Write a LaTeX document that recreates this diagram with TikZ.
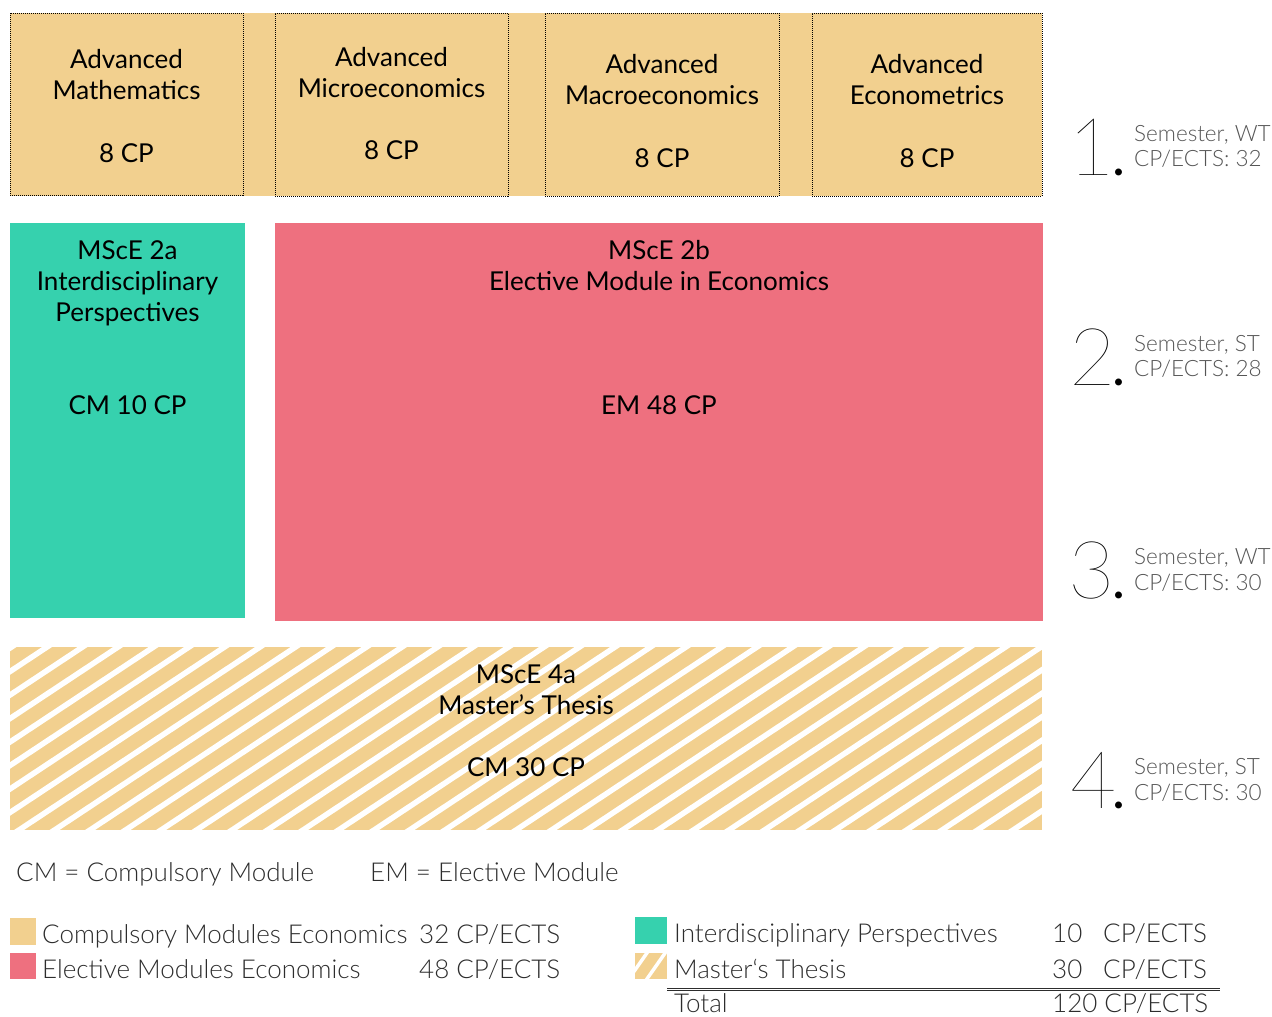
\documentclass[tikz,border=0pt]{standalone}
\usepackage{fontspec}
\setmainfont{Lato}
\newfontfamily\lightf{Lato Light}
\newfontfamily\hairf{Lato Hairline}
\definecolor{beige}{RGB}{242,208,143}
\definecolor{teal}{RGB}{54,209,174}
\definecolor{pinkm}{RGB}{238,112,127}
\definecolor{semgray}{RGB}{85,85,85}
\definecolor{leggray}{RGB}{45,45,45}
\newcommand{\semdigit}[2]{\makebox[#1pt][l]{\hairf #2}\rlap{\fontsize{55}{55}\selectfont.}}
\tikzset{
  topbox/.style={draw=black, line width=0.8pt, dash pattern=on 1pt off 1pt, fill=beige, inner sep=0pt},
  blk/.style={font=\fontsize{26}{31}\selectfont, anchor=base, inner sep=0pt, text=black},
  semnum/.style={font=\fontsize{80}{80}\selectfont, anchor=base west, inner sep=0pt},
  semtxt/.style={font=\lightf\fontsize{22.5}{25}\selectfont, anchor=base west, inner sep=0pt, text=semgray},
  leg/.style={font=\lightf\fontsize{26}{28}\selectfont, anchor=base west, inner sep=0pt, text=leggray},
  stripe/.style={white, line width=5.5pt},
}
\begin{document}
\begin{tikzpicture}[x=1pt,y=-1pt]
\useasboundingbox (0,0) rectangle (1272,1017);
% top band
\fill[beige] (10,13) rectangle (1042,196);
\node[topbox, minimum width=233, minimum height=182] (b1) at (126.5,104) {};
\node[topbox, minimum width=233, minimum height=183] (b2) at (391.5,104.5) {};
\node[topbox, minimum width=234, minimum height=183] (b3) at (662,104.5) {};
\node[topbox, minimum width=230, minimum height=183] (b4) at (927,104.5) {};
\node[blk] (b1a) at (126.5,68.5) {Advanced};
\node[blk] (b1b) at (126.5,99.5) {Mathematics};
\node[blk] (b1c) at (126.5,162.5) {8 CP};
\node[blk] (b2a) at (391.5,66.5) {Advanced};
\node[blk] (b2b) at (391.5,97.5) {Microeconomics};
\node[blk] (b2c) at (391.5,159.5) {8 CP};
\node[blk] (b3a) at (662,73.5) {Advanced};
\node[blk] (b3b) at (662,104.5) {Macroeconomics};
\node[blk] (b3c) at (662,167.5) {8 CP};
\node[blk] (b4a) at (927,73.5) {Advanced};
\node[blk] (b4b) at (927,104.5) {Econometrics};
\node[blk] (b4c) at (927,167.5) {8 CP};
% teal
\node[fill=teal, minimum width=235, minimum height=395, inner sep=0pt] (ip) at (127.5,420.5) {};
\node[blk] (ipa) at (127.5,259.5) {MScE 2a};
\node[blk] (ipb) at (127.5,290.5) {Interdisciplinary};
\node[blk] (ipc) at (127.5,321.5) {Perspectives};
\node[blk] (ipd) at (127.5,414.5) {CM 10 CP};
% pink
\node[fill=pinkm, minimum width=768, minimum height=398, inner sep=0pt] (em) at (659,422) {};
\node[blk] (ema) at (659,259.5) {MScE 2b};
\node[blk] (emb) at (659,290.5) {Elective Module in Economics};
\node[blk] (emc) at (659,414.5) {EM 48 CP};
% thesis hatched
\begin{scope}
\clip (10,647) rectangle (1042,830);
\fill[beige] (10,647) rectangle (1042,830);
\foreach \i in {-3,...,34} {
  \draw[stripe] (933-\i*35.5,836) -- ++(-33.5:420);
}
\end{scope}
\node[inner sep=0pt, minimum width=1032, minimum height=183] (th) at (526,738.5) {};
\node[blk] (tha) at (526,683.5) {MScE 4a};
\node[blk] (thb) at (526,714.5) {Master’s Thesis};
\node[blk] (thc) at (526,776.5) {CM 30 CP};
% semesters
\node[semnum] (s1) at (1068,175) {\semdigit{44}{1}};
\node[semtxt] (s1a) at (1134,141) {Semester, WT};
\node[semtxt] (s1b) at (1134,166) {CP/ECTS: 32};
\node[semnum] (s2) at (1069,385) {\semdigit{43}{2}};
\node[semtxt] (s2a) at (1134,351) {Semester, ST};
\node[semtxt] (s2b) at (1134,376) {CP/ECTS: 28};
\node[semnum] (s3) at (1068,598) {\semdigit{44}{3}};
\node[semtxt] (s3a) at (1134,564) {Semester, WT};
\node[semtxt] (s3b) at (1134,590) {CP/ECTS: 30};
\node[semnum] (s4) at (1070,808) {\semdigit{42}{4}};
\node[semtxt] (s4a) at (1134,774) {Semester, ST};
\node[semtxt] (s4b) at (1134,800) {CP/ECTS: 30};
% legend
\node[leg] (cm) at (16,881) {CM = Compulsory Module};
\node[leg] (emd) at (370,881) {EM = Elective Module};
\node[fill=beige, minimum width=26, minimum height=27, inner sep=0pt] (lq1) at (23,931.5) {};
\node[leg] (l1) at (42,943.5) {Compulsory Modules Economics};
\node[leg] (l1n) at (419,943.5) {32 CP/ECTS};
\node[fill=pinkm, minimum width=26, minimum height=26, inner sep=0pt] (lq2) at (23,966) {};
\node[leg] (l2) at (42,978.5) {Elective Modules Economics};
\node[leg] (l2n) at (419,978.5) {48 CP/ECTS};
\node[fill=teal, minimum width=32, minimum height=27, inner sep=0pt] (lq3) at (651,930.5) {};
\node[leg] (l3) at (674,942.5) {Interdisciplinary Perspectives};
\node[leg] (l3n) at (1052,942.5) {10};
\node[leg] (l3u) at (1103,942.5) {CP/ECTS};
\begin{scope}
\clip (635,953) rectangle (667,979);
\fill[beige] (635,953) rectangle (667,979);
\draw[white, line width=3.5pt] (642,960) ++(125:30) -- ++(-55:60);
\draw[white, line width=3.5pt] (656,966) ++(125:30) -- ++(-55:60);
\end{scope}
\node[inner sep=0pt, minimum width=32, minimum height=26] (lq4) at (651,966) {};
\node[leg] (l4) at (674,978.5) {Master‘s Thesis};
\node[leg] (l4n) at (1052,978.5) {30};
\node[leg] (l4u) at (1103,978.5) {CP/ECTS};
\coordinate (dl1) at (667,989.5);
\coordinate (dl2) at (1220,989.5);
\draw[leggray, line width=1.1pt, double, double distance=1.4pt] (dl1) -- (dl2);
\node[leg] (tot) at (674,1012.5) {Total};
\node[leg] (totn) at (1052,1012.5) {120 CP/ECTS};
\end{tikzpicture}
\end{document}
